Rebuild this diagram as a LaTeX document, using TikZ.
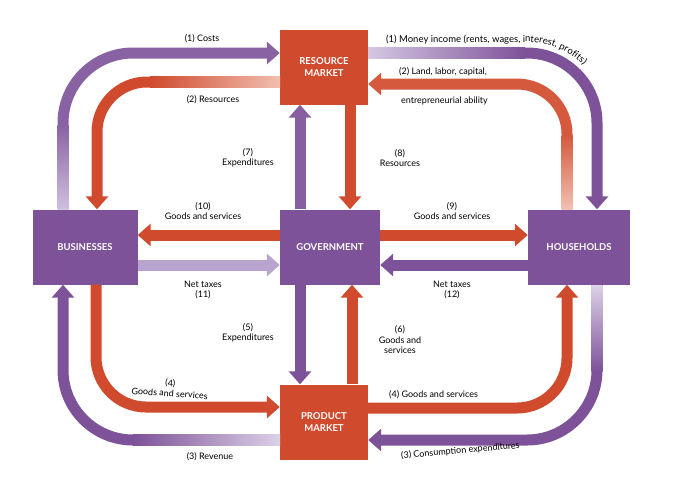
\documentclass[tikz,border=0pt]{standalone}
\usepackage{fontspec}
\setmainfont{Lato}
\usetikzlibrary{arrows.meta,decorations.text}
\definecolor{pur}{HTML}{7D5299}
\definecolor{lpur}{HTML}{B9A3CF}
\definecolor{rd}{HTML}{D04A2E}
\definecolor{lrd}{HTML}{E8947A}
\begin{document}
\begin{tikzpicture}[x=1pt,y=-1pt,
  box/.style={draw=none,text=white,font=\bfseries\fontsize{9.5}{11.5}\selectfont,align=center,inner sep=0pt},
  flow/.style={line width=11pt,-{Triangle[width=22pt,length=13pt]}},
  outer/.style={flow,rounded corners=70pt},
  inner/.style={flow,rounded corners=50pt},
  lab/.style={font=\fontsize{9}{10.5}\selectfont,align=center,inner sep=1pt}]
\useasboundingbox (0,0) rectangle (700,491);
\fill[white] (0,0) rectangle (700,491);
\node[box,fill=rd,minimum width=88pt,minimum height=75pt] (rm) at (324,67) {RESOURCE\\MARKET};
\node[box,fill=rd,minimum width=88pt,minimum height=75pt] (pm) at (324,422) {PRODUCT\\MARKET};
\node[box,fill=pur,minimum width=105pt,minimum height=75pt] (bus) at (85,247) {BUSINESSES};
\node[box,fill=pur,minimum width=100pt,minimum height=75pt] (gov) at (330,247) {GOVERNMENT};
\node[box,fill=pur,minimum width=102pt,minimum height=75pt] (hh) at (579,247) {HOUSEHOLDS};
% outer loops
\draw[outer,pur!80!lpur] (bus.north -| 63,0) -- (63,53) -- (rm.west |- 0,53);
\shade[bottom color=lpur!70,top color=pur!80!lpur] (57.5,208) rectangle (68.5,125);
\draw[inner,rd] (rm.west |- 0,82) -- (97,82) -- (bus.north -| 97,0);
\shade[left color=rd,right color=lrd!60] (150,76.5) rectangle (280,87.5);
\draw[outer,pur] (rm.east |- 0,53) -- (597,53) -- (hh.north -| 597,0);
\shade[left color=lpur!60,right color=pur] (368,47.5) rectangle (525,58.5);
\draw[inner,rd!80!lrd] (hh.north -| 567,0) -- (567,84) -- (rm.east |- 0,84);
\shade[bottom color=lrd!60,top color=rd!80!lrd] (561.5,208) rectangle (572.5,135);
\draw[inner,rd] (bus.south -| 96,0) -- (96,407) -- (pm.west |- 0,407);
\draw[outer,pur] (pm.west |- 0,440) -- (63,440) -- (bus.south -| 63,0);
\shade[left color=pur,right color=lpur!50] (133,434.5) rectangle (280,445.5);
\draw[inner,rd] (pm.east |- 0,408) -- (567,408) -- (hh.south -| 567,0);
\draw[outer,pur] (hh.south -| 597,0) -- (597,440) -- (pm.east |- 0,440);
\shade[top color=lpur!50,bottom color=pur] (591.5,285) rectangle (602.5,371);
% inner
\draw[flow,pur!85!lpur] (gov.north -| 300,0) -- (rm.south -| 300,0);
\draw[flow,rd] (rm.south -| 350,0) -- (gov.north -| 350,0);
\draw[flow,rd] (gov.west |- 0,235) -- (bus.east |- 0,235);
\draw[flow,lpur] (bus.east |- 0,265) -- (gov.west |- 0,265);
\draw[flow,rd] (gov.east |- 0,235) -- (hh.west |- 0,235);
\draw[flow,pur] (hh.west |- 0,265) -- (gov.east |- 0,265);
\draw[flow,pur] (gov.south -| 300,0) -- (pm.north -| 300,0);
\draw[flow,rd] (pm.north -| 352,0) -- (gov.south -| 352,0);
% curved label
\begin{scope}[y=1pt]
\path[decorate,decoration={text along path,text align=left,
  text={|\fontsize{9.5}{11}\selectfont|(1) Money income (rents, wages, interest, profits)}}]
  (386,-42) -- (527,-42) arc[start angle=90,end angle=-10,radius=81];
\end{scope}
% labels
\node[lab] (l1) at (202,39) {(1) Costs};
\node[lab] (l2) at (213,100) {(2) Resources};
\node[lab,anchor=west] (l2b) at (398,72) {(2) Land, labor, capital,};
\node[lab,anchor=west] (l2c) at (400,101) {entrepreneurial ability};
\node[lab] (l7) at (248,158) {(7)\\Expenditures};
\node[lab] (l8) at (400,158) {(8)\\Resources};
\node[lab] (l10) at (203,211) {(10)\\Goods and services};
\node[lab] (l9) at (452,211) {(9)\\Goods and services};
\node[lab] (l11) at (203,290) {Net taxes\\(11)};
\node[lab] (l12) at (452,290) {Net taxes\\(12)};
\node[lab] (l5) at (248,333) {(5)\\Expenditures};
\node[lab] (l6) at (400,340) {(6)\\Goods and\\services};
\node[lab,rotate=-4] (l4) at (170,388) {(4)\\Goods and services};
\node[lab,anchor=west] (l4b) at (388,395) {(4) Goods and services};
\node[lab] (l3) at (210,457) {(3) Revenue};
\node[lab,anchor=west,rotate=5] (l3b) at (400,456) {(3) Consumption expenditures};
\end{tikzpicture}
\end{document}
